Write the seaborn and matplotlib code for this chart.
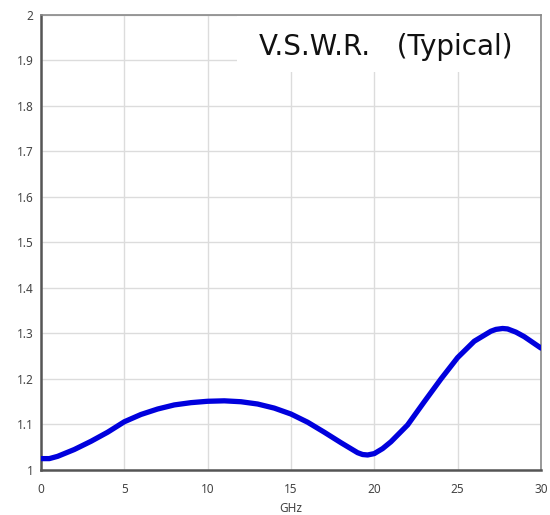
import pandas as pd
import matplotlib.pyplot as plt
import seaborn as sns
from matplotlib.patches import Rectangle

# V.S.W.R. curve (GHz vs ratio)
freq_ghz = [0, 0.5, 1, 2, 3, 4, 5, 6, 7, 8, 9, 10, 11, 12, 13, 14, 15, 16,
            17, 18, 18.5, 19, 19.3, 19.6, 20, 20.5, 21, 22, 23, 24, 25, 26,
            27, 27.3, 27.7, 28, 28.5, 29, 30]
vswr = [1.025, 1.025, 1.030, 1.045, 1.063, 1.083, 1.106, 1.122, 1.134, 1.143,
        1.148, 1.151, 1.152, 1.150, 1.145, 1.136, 1.123, 1.105, 1.083, 1.060,
        1.049, 1.038, 1.034, 1.033, 1.036, 1.047, 1.062, 1.099, 1.150, 1.200,
        1.247, 1.283, 1.305, 1.309, 1.311, 1.310, 1.303, 1.293, 1.268]

x_ticks = [0, 5, 10, 15, 20, 25, 30]
y_ticks = [1, 1.1, 1.2, 1.3, 1.4, 1.5, 1.6, 1.7, 1.8, 1.9, 2]
y_labels = ["1", "1.1", "1.2", "1.3", "1.4", "1.5", "1.6", "1.7", "1.8", "1.9", "2"]

df = pd.DataFrame({"GHz": freq_ghz, "VSWR": vswr})

sns.set_style("white")
plt.rcParams["font.family"] = ["Noto Sans", "DejaVu Sans"]

fig = plt.figure(figsize=(5.5, 5.15), dpi=100)
ax = fig.add_axes([0.0745, 0.0874, 0.909, 0.8835])

sns.lineplot(data=df, x="GHz", y="VSWR", ax=ax, color="#0000dd",
             linewidth=3.8, zorder=3)

ax.set_xlim(0, 30)
ax.set_ylim(1, 2)
ax.set_xticks(x_ticks)
ax.set_yticks(y_ticks)
ax.set_yticklabels(y_labels)
ax.grid(True, color="#dcdcdc", linewidth=1.0, zorder=0)
ax.set_axisbelow(True)

ax.tick_params(axis="both", direction="out", length=2.5, width=1.2,
               color="#555555", labelsize=8.5, labelcolor="#444444")
ax.tick_params(axis="x", pad=7)
ax.tick_params(axis="y", pad=3)
ax.set_xlabel("GHz", fontsize=8.5, color="#444444", labelpad=4)
ax.set_ylabel("")

for side in ["left", "bottom"]:
    ax.spines[side].set_color("#555555")
    ax.spines[side].set_linewidth(1.8)
for side in ["top", "right"]:
    ax.spines[side].set_color("#888888")
    ax.spines[side].set_linewidth(1.2)

# white title box over the grid in the upper right
ax.add_patch(Rectangle((0.392, 0.874), 0.606, 0.124, transform=ax.transAxes,
                       facecolor="white", edgecolor="none", zorder=2.5))
ax.text(0.69, 0.929, "V.S.W.R.   (Typical)", transform=ax.transAxes,
        ha="center", va="center", fontsize=20, color="#111111",
        family="DejaVu Sans", zorder=4)

fig.savefig("out.png", dpi=100)
